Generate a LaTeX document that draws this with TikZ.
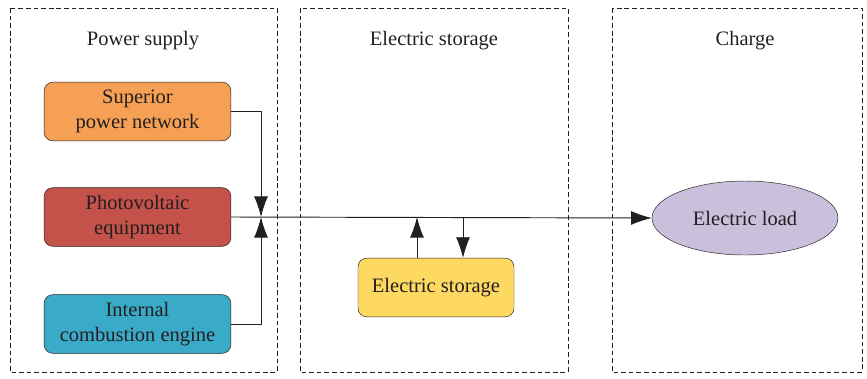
\documentclass[tikz,border=0pt]{standalone}
\usepackage{fontspec}
\setmainfont{Liberation Serif}
\usetikzlibrary{arrows.meta,positioning,shapes.geometric,calc}
\usepackage{xcolor}
\definecolor{dark}{HTML}{231F20}
\definecolor{supcol}{HTML}{F5A054}
\definecolor{pvcol}{HTML}{C4514A}
\definecolor{icecol}{HTML}{3AAAC9}
\definecolor{storcol}{HTML}{FDD962}
\definecolor{loadcol}{HTML}{CAC0DC}
\tikzset{
  panel/.style={draw=dark, dashed, dash pattern=on 4pt off 2.5pt, thin},
  title/.style={font=\fontsize{17.5}{21}\selectfont, text=dark},
  box/.style={draw=dark, rounded corners=2.6mm, thin, align=center, text=dark,
    font=\fontsize{17.5}{21}\selectfont, minimum width=5.6cm, minimum height=1.76cm, inner sep=1mm},
  supbox/.style={box, fill=supcol},
  pvbox/.style={box, fill=pvcol},
  icebox/.style={box, fill=icecol},
  storbox/.style={box, fill=storcol, minimum width=4.68cm},
  loadnode/.style={ellipse, draw=dark, thin, fill=loadcol, text=dark,
    font=\fontsize{17.5}{21}\selectfont, minimum width=5.58cm, minimum height=2.22cm},
  line/.style={draw=dark, line width=0.8pt},
  arrow/.style={line, -{Latex[length=6.2mm, width=4.2mm]}}
}

\begin{document}
\begin{tikzpicture}[x=0.03cm, y=-0.03cm]
  \useasboundingbox (0,0) rectangle (867,378);
  % panels
  \draw[panel] (10,8) rectangle (277,372);
  \draw[panel] (300,8) rectangle (568,372);
  \draw[panel] (612,8) rectangle (862,372);
  \node[title] (t1) at (143,41) {Power supply};
  \node[title] (t2) at (434,41) {Electric storage};
  \node[title] (t3) at (745,41) {Charge};
  % sources
  \node[supbox] (sup) at (137.5,111.5) {Superior\\power network};
  \node[pvbox] (pv) at (137.5,217) {Photovoltaic\\equipment};
  \node[icebox] (ice) at (137.5,324) {Internal\\combustion engine};
  % storage and load
  \node[storbox] (stor) at (436,287.5) {Electric storage};
  \node[loadnode] (load) at (745,218) {Electric load};
  \coordinate (junc) at (261,217);
  \coordinate (up) at (417,217);
  \coordinate (down) at (463,217);
  % connectors
  \draw[arrow] (sup.east) -| (junc);
  \draw[arrow] (ice.east) -| (junc);
  \draw[arrow] (pv.east) -- (load.west);
  \draw[arrow] (stor.north -| up) -- (up);
  \draw[arrow] (down) -- (stor.north -| down);
\end{tikzpicture}
\end{document}
